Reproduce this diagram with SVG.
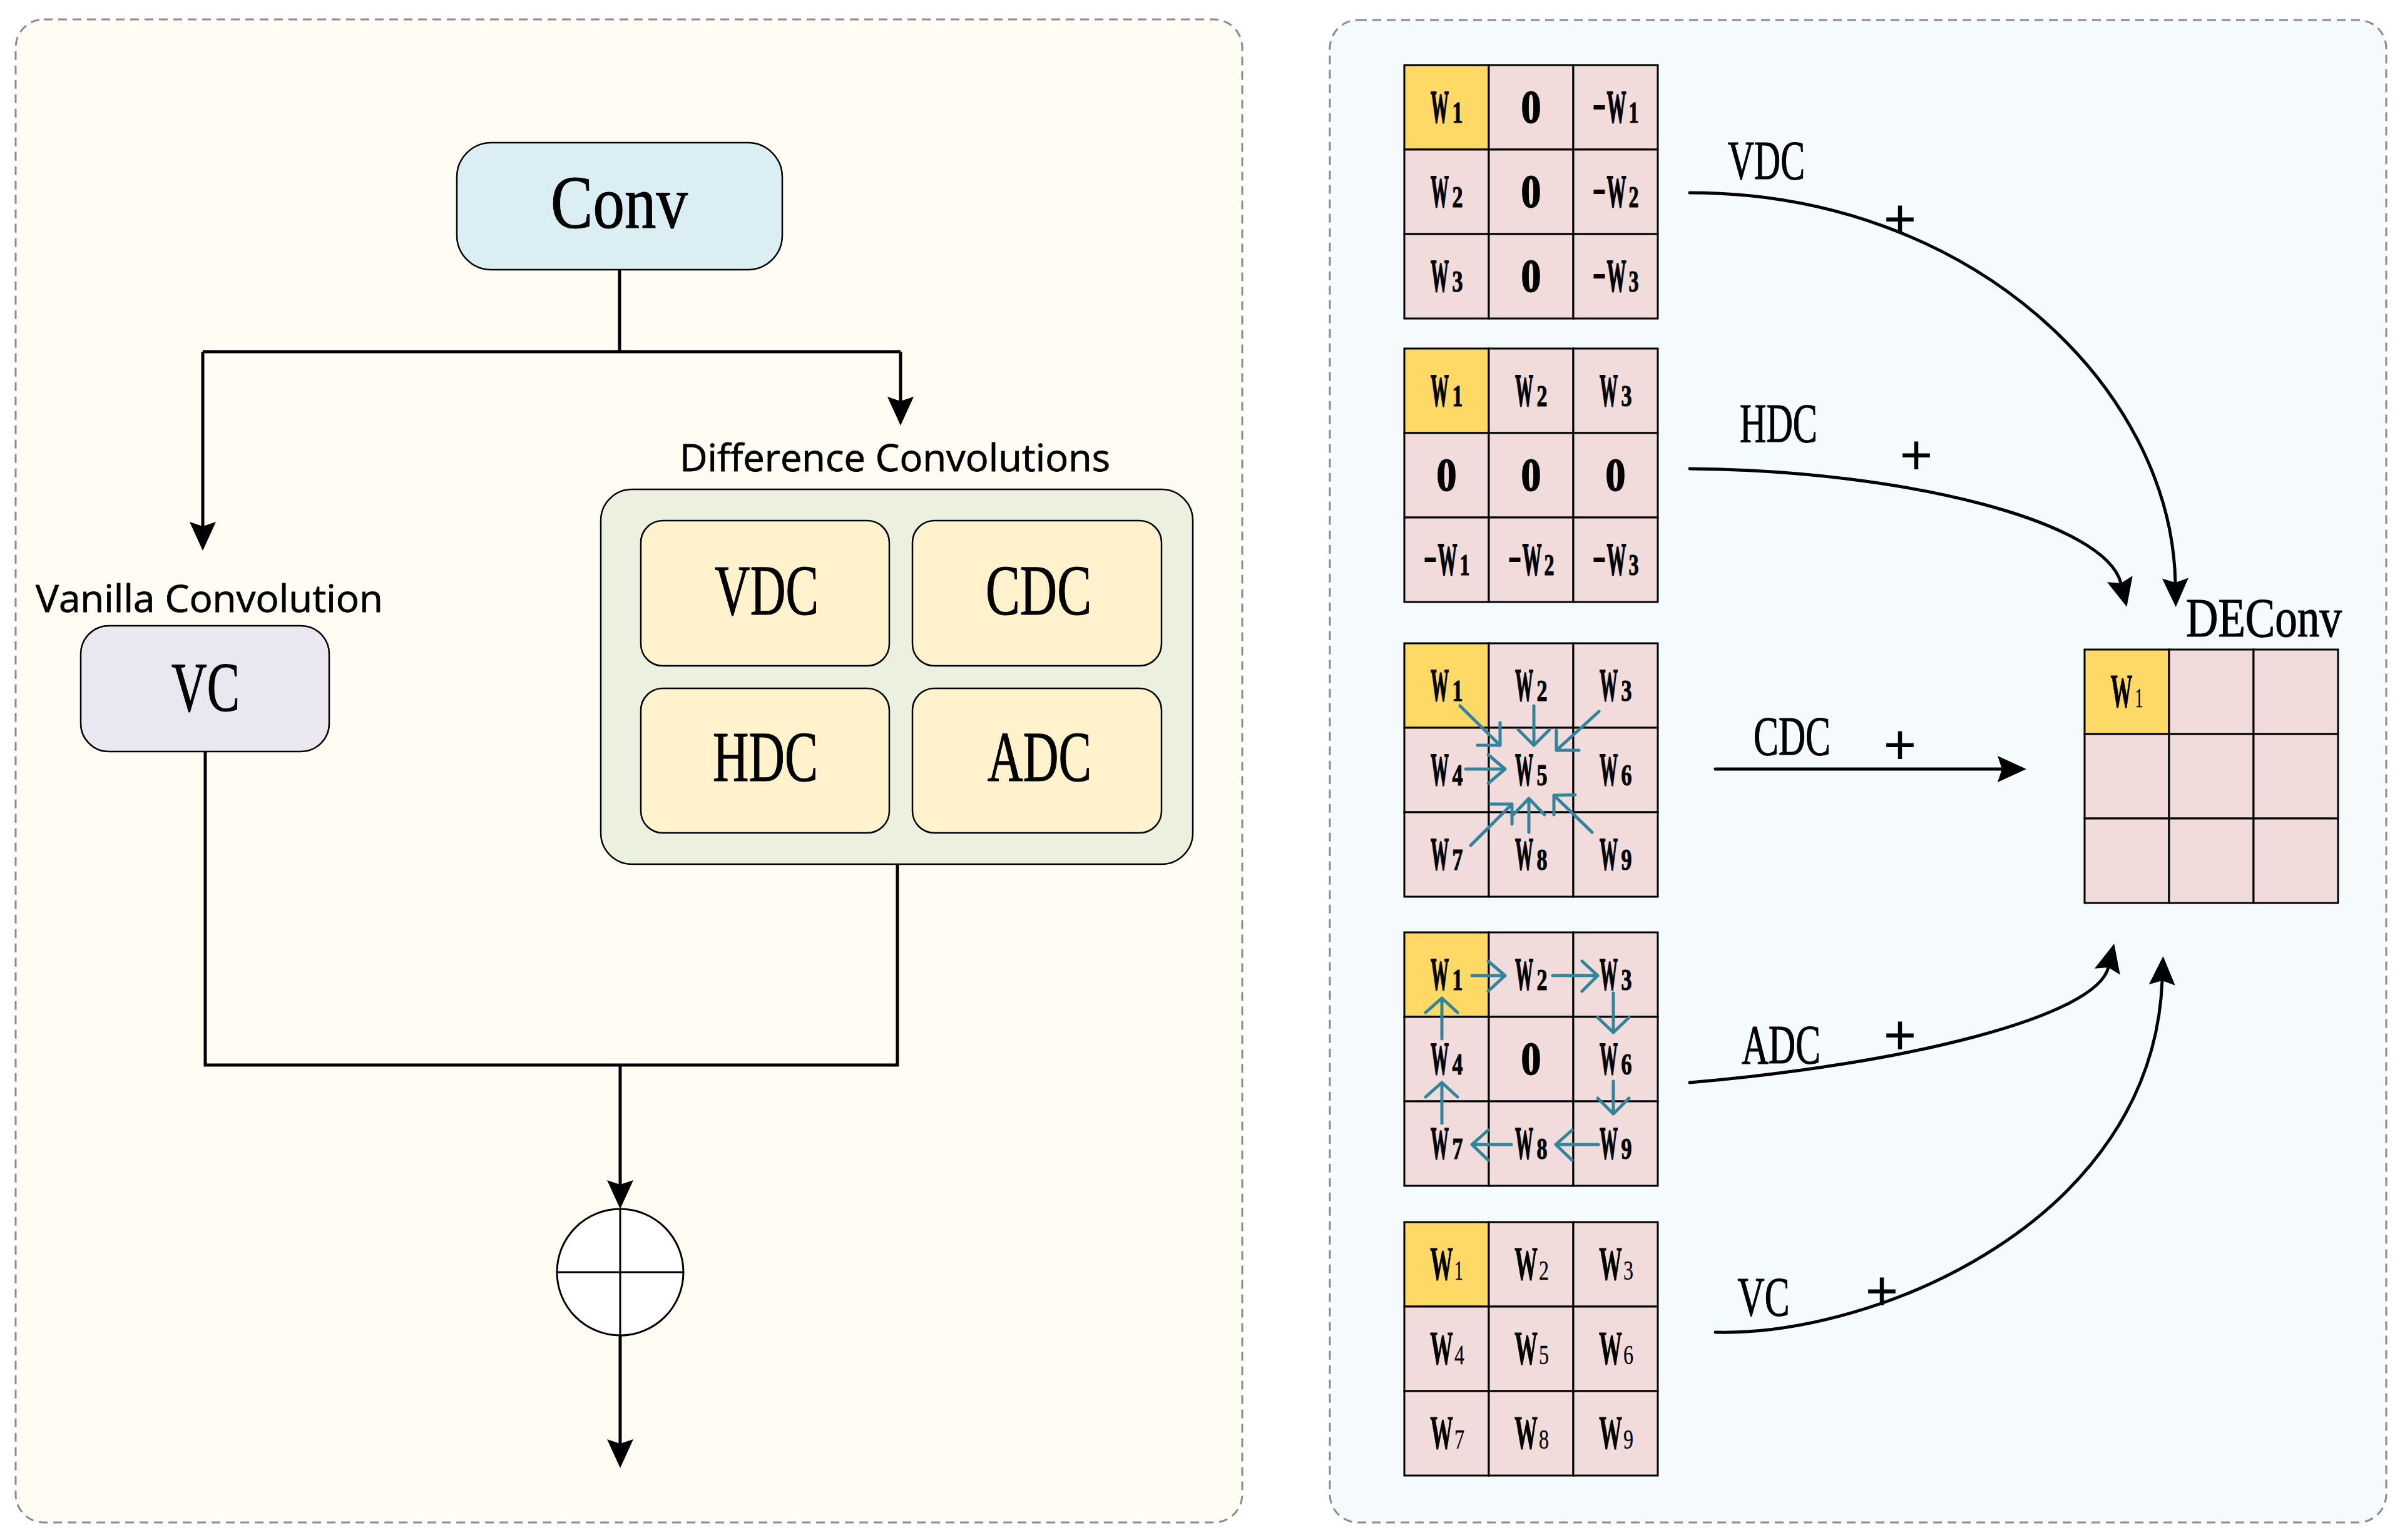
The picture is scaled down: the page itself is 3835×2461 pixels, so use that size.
<svg xmlns="http://www.w3.org/2000/svg" width="3835" height="2461" viewBox="0 0 3835 2461">
<defs>
<style>
.panel{stroke:#8c8c8c;stroke-width:3;stroke-dasharray:14 9}
.box{stroke:#000;stroke-width:2.5}
.ln{stroke:#000;stroke-width:5;fill:none}
.cv{stroke:#000;stroke-width:5;fill:none;stroke-linecap:round}
.tl{stroke:#31849B;stroke-width:5;fill:none;stroke-linecap:round;stroke-linejoin:round}
.lab{font-family:"Liberation Serif",serif;fill:#000;stroke:#000;stroke-width:1.2}
.sans{font-family:"Open Sans","Liberation Sans",sans-serif;font-size:60px;fill:#000;stroke:#000;stroke-width:0.8}
.pk{fill:#F2DCDB;stroke:#000;stroke-width:3}
.yl{fill:#FFD966;stroke:#000;stroke-width:3}
.w{font-family:"Liberation Serif",serif;font-weight:bold;font-size:74px;fill:#000;stroke:#000;stroke-width:1.8}
.d{font-family:"Liberation Serif",serif;font-weight:bold;font-size:48px;fill:#000;stroke:#000;stroke-width:1.2}
.w2{font-family:"Liberation Serif",serif;font-weight:bold;font-size:76px;fill:#000;stroke:#000;stroke-width:0.8}
.d2{font-family:"Liberation Serif",serif;font-size:45px;fill:#000;stroke:#000;stroke-width:0.3}
.plus{font-family:"Liberation Sans",sans-serif;font-size:90px;text-anchor:middle}
</style>
<marker id="ah" markerUnits="userSpaceOnUse" markerWidth="52" markerHeight="50" viewBox="0 -25 52 50" refX="7" refY="0" orient="auto">
<path d="M0,-21 L46,0 L0,21 L7,0 Z" fill="#000"/>
</marker>
</defs>

<g id="panels">
<rect class="panel" x="25" y="31" width="1960" height="2402" rx="45" fill="#FFFCF4"/>
<rect class="panel" x="2125" y="32" width="1688" height="2401" rx="45" fill="#F5FAFD"/>
</g>

<g id="connectors">
<path class="ln" d="M990,431 V562"/>
<path class="ln" d="M324,562 H1439"/>
<path class="ln" d="M324,562 V841" marker-end="url(#ah)"/>
<path class="ln" d="M1439,562 V641" marker-end="url(#ah)"/>
<path class="ln" d="M328,1201 V1702 H1434 V1381"/>
<path class="ln" d="M991,1702 V1893" marker-end="url(#ah)"/>
<path class="ln" d="M991,2135 V2307" marker-end="url(#ah)"/>
<path class="cv" d="M2700,308 C3150,308 3470,620 3476,931" marker-end="url(#ah)"/>
<path class="cv" d="M2700,749 C3050,752 3365,835 3389,932" marker-end="url(#ah)"/>
<path class="cv" d="M2741,1229 H3199" marker-end="url(#ah)"/>
<path class="cv" d="M2700,1730 C3050,1700 3350,1624 3369,1546" marker-end="url(#ah)"/>
<path class="cv" d="M2741,2129 C3000,2135 3440,1950 3455,1567" marker-end="url(#ah)"/>
</g>

<g id="conv">
<rect class="box" x="730" y="228" width="520" height="203" rx="55" fill="#DBEEF4"/>
<text class="lab" x="880" y="364" font-size="120" textLength="219" lengthAdjust="spacingAndGlyphs">Conv</text>
</g>

<g id="vc">
<text class="sans" x="57" y="978" textLength="555" lengthAdjust="spacingAndGlyphs">Vanilla Convolution</text>
<rect class="box" x="129" y="1000" width="397" height="201" rx="45" fill="#EAE7F0"/>
<text class="lab" x="274" y="1136" font-size="113" textLength="109" lengthAdjust="spacingAndGlyphs">VC</text>
</g>

<g id="difference-convolutions">
<text class="sans" x="1086" y="753" textLength="688" lengthAdjust="spacingAndGlyphs">Difference Convolutions</text>
<rect class="box" x="960" y="782" width="946" height="599" rx="50" fill="#EBF1DE"/>
</g>
<g id="vdc">
<rect class="box" x="1024" y="832" width="397" height="232" rx="35" fill="#FFF2CC"/>
<text class="lab" x="1142" y="982" font-size="115" textLength="166" lengthAdjust="spacingAndGlyphs">VDC</text>
</g>
<g id="cdc">
<rect class="box" x="1458" y="832" width="398" height="232" rx="35" fill="#FFF2CC"/>
<text class="lab" x="1575" y="982" font-size="115" textLength="169" lengthAdjust="spacingAndGlyphs">CDC</text>
</g>
<g id="hdc">
<rect class="box" x="1024" y="1100" width="397" height="231" rx="35" fill="#FFF2CC"/>
<text class="lab" x="1139" y="1248" font-size="115" textLength="168" lengthAdjust="spacingAndGlyphs">HDC</text>
</g>
<g id="adc">
<rect class="box" x="1458" y="1100" width="398" height="231" rx="35" fill="#FFF2CC"/>
<text class="lab" x="1578" y="1248" font-size="115" textLength="166" lengthAdjust="spacingAndGlyphs">ADC</text>
</g>

<g id="sum">
<circle cx="991" cy="2033" r="101" fill="#fff" stroke="#000" stroke-width="3"/>
<path d="M890,2033 H1092 M991,1932 V2134" stroke="#000" stroke-width="3"/>
</g>

<g id="grid-vdc">
<rect class="yl" x="2244" y="104" width="135" height="135"/>
<rect class="pk" x="2379" y="104" width="135" height="135"/>
<rect class="pk" x="2514" y="104" width="135" height="135"/>
<rect class="pk" x="2244" y="239" width="135" height="135"/>
<rect class="pk" x="2379" y="239" width="135" height="135"/>
<rect class="pk" x="2514" y="239" width="135" height="135"/>
<rect class="pk" x="2244" y="374" width="135" height="135"/>
<rect class="pk" x="2379" y="374" width="135" height="135"/>
<rect class="pk" x="2514" y="374" width="135" height="135"/>
<text class="w" transform="matrix(.392,0,0,1,2286,195.5)">W</text><text class="d" transform="matrix(.708,0,0,1,2320.5,195.5)">1</text>
<text class="w" transform="matrix(.865,0,0,1,2430.5,195.5)">0</text>
<text class="w" transform="matrix(.498,0,0,1,2545,195.5)">−</text><text class="w" transform="matrix(.419,0,0,1,2567.5,195.5)">W</text><text class="d" transform="matrix(.667,0,0,1,2602.5,195.5)">1</text>
<text class="w" transform="matrix(.392,0,0,1,2286,330.5)">W</text><text class="d" transform="matrix(.708,0,0,1,2320.5,330.5)">2</text>
<text class="w" transform="matrix(.865,0,0,1,2430.5,330.5)">0</text>
<text class="w" transform="matrix(.498,0,0,1,2545,330.5)">−</text><text class="w" transform="matrix(.419,0,0,1,2567.5,330.5)">W</text><text class="d" transform="matrix(.667,0,0,1,2602.5,330.5)">2</text>
<text class="w" transform="matrix(.392,0,0,1,2286,465.5)">W</text><text class="d" transform="matrix(.708,0,0,1,2320.5,465.5)">3</text>
<text class="w" transform="matrix(.865,0,0,1,2430.5,465.5)">0</text>
<text class="w" transform="matrix(.498,0,0,1,2545,465.5)">−</text><text class="w" transform="matrix(.419,0,0,1,2567.5,465.5)">W</text><text class="d" transform="matrix(.667,0,0,1,2602.5,465.5)">3</text>
</g>

<g id="grid-hdc">
<rect class="yl" x="2244" y="557" width="135" height="135"/>
<rect class="pk" x="2379" y="557" width="135" height="135"/>
<rect class="pk" x="2514" y="557" width="135" height="135"/>
<rect class="pk" x="2244" y="692" width="135" height="135"/>
<rect class="pk" x="2379" y="692" width="135" height="135"/>
<rect class="pk" x="2514" y="692" width="135" height="135"/>
<rect class="pk" x="2244" y="827" width="135" height="135"/>
<rect class="pk" x="2379" y="827" width="135" height="135"/>
<rect class="pk" x="2514" y="827" width="135" height="135"/>
<text class="w" transform="matrix(.392,0,0,1,2286,648.5)">W</text><text class="d" transform="matrix(.708,0,0,1,2320.5,648.5)">1</text>
<text class="w" transform="matrix(.392,0,0,1,2421,648.5)">W</text><text class="d" transform="matrix(.708,0,0,1,2455.5,648.5)">2</text>
<text class="w" transform="matrix(.392,0,0,1,2556,648.5)">W</text><text class="d" transform="matrix(.708,0,0,1,2590.5,648.5)">3</text>
<text class="w" transform="matrix(.865,0,0,1,2295.5,783.5)">0</text>
<text class="w" transform="matrix(.865,0,0,1,2430.5,783.5)">0</text>
<text class="w" transform="matrix(.865,0,0,1,2565.5,783.5)">0</text>
<text class="w" transform="matrix(.498,0,0,1,2275,918.5)">−</text><text class="w" transform="matrix(.419,0,0,1,2297.5,918.5)">W</text><text class="d" transform="matrix(.667,0,0,1,2332.5,918.5)">1</text>
<text class="w" transform="matrix(.498,0,0,1,2410,918.5)">−</text><text class="w" transform="matrix(.419,0,0,1,2432.5,918.5)">W</text><text class="d" transform="matrix(.667,0,0,1,2467.5,918.5)">2</text>
<text class="w" transform="matrix(.498,0,0,1,2545,918.5)">−</text><text class="w" transform="matrix(.419,0,0,1,2567.5,918.5)">W</text><text class="d" transform="matrix(.667,0,0,1,2602.5,918.5)">3</text>
</g>

<g id="grid-cdc">
<rect class="yl" x="2244" y="1028" width="135" height="135"/>
<rect class="pk" x="2379" y="1028" width="135" height="135"/>
<rect class="pk" x="2514" y="1028" width="135" height="135"/>
<rect class="pk" x="2244" y="1163" width="135" height="135"/>
<rect class="pk" x="2379" y="1163" width="135" height="135"/>
<rect class="pk" x="2514" y="1163" width="135" height="135"/>
<rect class="pk" x="2244" y="1298" width="135" height="135"/>
<rect class="pk" x="2379" y="1298" width="135" height="135"/>
<rect class="pk" x="2514" y="1298" width="135" height="135"/>
<text class="w" transform="matrix(.392,0,0,1,2286,1119.5)">W</text><text class="d" transform="matrix(.708,0,0,1,2320.5,1119.5)">1</text>
<text class="w" transform="matrix(.392,0,0,1,2421,1119.5)">W</text><text class="d" transform="matrix(.708,0,0,1,2455.5,1119.5)">2</text>
<text class="w" transform="matrix(.392,0,0,1,2556,1119.5)">W</text><text class="d" transform="matrix(.708,0,0,1,2590.5,1119.5)">3</text>
<text class="w" transform="matrix(.392,0,0,1,2286,1254.5)">W</text><text class="d" transform="matrix(.708,0,0,1,2320.5,1254.5)">4</text>
<text class="w" transform="matrix(.392,0,0,1,2421,1254.5)">W</text><text class="d" transform="matrix(.708,0,0,1,2455.5,1254.5)">5</text>
<text class="w" transform="matrix(.392,0,0,1,2556,1254.5)">W</text><text class="d" transform="matrix(.708,0,0,1,2590.5,1254.5)">6</text>
<text class="w" transform="matrix(.392,0,0,1,2286,1389.5)">W</text><text class="d" transform="matrix(.708,0,0,1,2320.5,1389.5)">7</text>
<text class="w" transform="matrix(.392,0,0,1,2421,1389.5)">W</text><text class="d" transform="matrix(.708,0,0,1,2455.5,1389.5)">8</text>
<text class="w" transform="matrix(.392,0,0,1,2556,1389.5)">W</text><text class="d" transform="matrix(.708,0,0,1,2590.5,1389.5)">9</text>
<path class="tl" d="M2333,1128 L2397,1191 M2397,1155 L2397,1191 L2361,1191"/>
<path class="tl" d="M2451,1128 L2451,1191 M2426,1166 L2451,1191 L2476,1166"/>
<path class="tl" d="M2555,1137 L2487,1199 M2487,1167 L2487,1199 L2523,1199"/>
<path class="tl" d="M2342,1229 L2405,1229 M2378,1206 L2405,1229 L2378,1252"/>
<path class="tl" d="M2350,1351 L2416,1285 M2382,1285 L2416,1285 L2416,1317"/>
<path class="tl" d="M2443,1330 L2443,1276 M2418,1302 L2443,1276 L2468,1302"/>
<path class="tl" d="M2544,1330 L2483,1271 M2517,1270 L2483,1271 L2483,1302"/>
</g>

<g id="grid-adc">
<rect class="yl" x="2244" y="1490" width="135" height="135"/>
<rect class="pk" x="2379" y="1490" width="135" height="135"/>
<rect class="pk" x="2514" y="1490" width="135" height="135"/>
<rect class="pk" x="2244" y="1625" width="135" height="135"/>
<rect class="pk" x="2379" y="1625" width="135" height="135"/>
<rect class="pk" x="2514" y="1625" width="135" height="135"/>
<rect class="pk" x="2244" y="1760" width="135" height="135"/>
<rect class="pk" x="2379" y="1760" width="135" height="135"/>
<rect class="pk" x="2514" y="1760" width="135" height="135"/>
<text class="w" transform="matrix(.392,0,0,1,2286,1581.5)">W</text><text class="d" transform="matrix(.708,0,0,1,2320.5,1581.5)">1</text>
<text class="w" transform="matrix(.392,0,0,1,2421,1581.5)">W</text><text class="d" transform="matrix(.708,0,0,1,2455.5,1581.5)">2</text>
<text class="w" transform="matrix(.392,0,0,1,2556,1581.5)">W</text><text class="d" transform="matrix(.708,0,0,1,2590.5,1581.5)">3</text>
<text class="w" transform="matrix(.392,0,0,1,2286,1716.5)">W</text><text class="d" transform="matrix(.708,0,0,1,2320.5,1716.5)">4</text>
<text class="w" transform="matrix(.865,0,0,1,2430.5,1716.5)">0</text>
<text class="w" transform="matrix(.392,0,0,1,2556,1716.5)">W</text><text class="d" transform="matrix(.708,0,0,1,2590.5,1716.5)">6</text>
<text class="w" transform="matrix(.392,0,0,1,2286,1851.5)">W</text><text class="d" transform="matrix(.708,0,0,1,2320.5,1851.5)">7</text>
<text class="w" transform="matrix(.392,0,0,1,2421,1851.5)">W</text><text class="d" transform="matrix(.708,0,0,1,2455.5,1851.5)">8</text>
<text class="w" transform="matrix(.392,0,0,1,2556,1851.5)">W</text><text class="d" transform="matrix(.708,0,0,1,2590.5,1851.5)">9</text>
<path class="tl" d="M2352,1559 L2405,1559 M2378,1536 L2405,1559 L2378,1584"/>
<path class="tl" d="M2481,1559 L2553,1559 M2528,1536 L2553,1559 L2528,1584"/>
<path class="tl" d="M2578,1587 L2578,1650 M2553,1626 L2578,1650 L2603,1626"/>
<path class="tl" d="M2578,1728 L2578,1780 M2553,1755 L2578,1780 L2603,1755"/>
<path class="tl" d="M2554,1829 L2486,1829 M2512,1806 L2486,1829 L2512,1854"/>
<path class="tl" d="M2415,1829 L2352,1829 M2378,1806 L2352,1829 L2378,1854"/>
<path class="tl" d="M2304,1795 L2304,1730 M2278,1753 L2304,1730 L2329,1753"/>
<path class="tl" d="M2304,1660 L2304,1595 M2278,1618 L2304,1595 L2329,1618"/>
</g>

<g id="grid-vc">
<rect class="yl" x="2244" y="1953" width="135" height="135"/>
<rect class="pk" x="2379" y="1953" width="135" height="135"/>
<rect class="pk" x="2514" y="1953" width="135" height="135"/>
<rect class="pk" x="2244" y="2088" width="135" height="135"/>
<rect class="pk" x="2379" y="2088" width="135" height="135"/>
<rect class="pk" x="2514" y="2088" width="135" height="135"/>
<rect class="pk" x="2244" y="2223" width="135" height="135"/>
<rect class="pk" x="2379" y="2223" width="135" height="135"/>
<rect class="pk" x="2514" y="2223" width="135" height="135"/>
<text class="w2" transform="matrix(.487,0,0,1,2285,2044.5)">W</text><text class="d2" transform="matrix(.622,0,0,1,2324,2044.5)">1</text>
<text class="w2" transform="matrix(.487,0,0,1,2420,2044.5)">W</text><text class="d2" transform="matrix(.711,0,0,1,2459,2044.5)">2</text>
<text class="w2" transform="matrix(.487,0,0,1,2555,2044.5)">W</text><text class="d2" transform="matrix(.711,0,0,1,2594,2044.5)">3</text>
<text class="w2" transform="matrix(.487,0,0,1,2285,2179.5)">W</text><text class="d2" transform="matrix(.711,0,0,1,2324,2179.5)">4</text>
<text class="w2" transform="matrix(.487,0,0,1,2420,2179.5)">W</text><text class="d2" transform="matrix(.711,0,0,1,2459,2179.5)">5</text>
<text class="w2" transform="matrix(.487,0,0,1,2555,2179.5)">W</text><text class="d2" transform="matrix(.711,0,0,1,2594,2179.5)">6</text>
<text class="w2" transform="matrix(.487,0,0,1,2285,2314.5)">W</text><text class="d2" transform="matrix(.711,0,0,1,2324,2314.5)">7</text>
<text class="w2" transform="matrix(.487,0,0,1,2420,2314.5)">W</text><text class="d2" transform="matrix(.711,0,0,1,2459,2314.5)">8</text>
<text class="w2" transform="matrix(.487,0,0,1,2555,2314.5)">W</text><text class="d2" transform="matrix(.711,0,0,1,2594,2314.5)">9</text>
</g>

<g id="deconv">
<text class="lab" x="3493" y="1017" font-size="89" textLength="249" lengthAdjust="spacingAndGlyphs">DEConv</text>
<rect class="yl" x="3331" y="1038" width="135" height="135"/>
<rect class="pk" x="3466" y="1038" width="135" height="135"/>
<rect class="pk" x="3601" y="1038" width="135" height="135"/>
<rect class="pk" x="3331" y="1173" width="135" height="135"/>
<rect class="pk" x="3466" y="1173" width="135" height="135"/>
<rect class="pk" x="3601" y="1173" width="135" height="135"/>
<rect class="pk" x="3331" y="1308" width="135" height="135"/>
<rect class="pk" x="3466" y="1308" width="135" height="135"/>
<rect class="pk" x="3601" y="1308" width="135" height="135"/>
<text class="w2" transform="matrix(.46,0,0,1,3372.5,1129.5)">W</text><text class="d2" transform="matrix(.578,0,0,1,3411.5,1129.5)">1</text>
</g>

<g id="labels">
<text class="lab" x="2761" y="285.5" font-size="88" textLength="123" lengthAdjust="spacingAndGlyphs">VDC</text>
<text class="lab" x="2780" y="705.5" font-size="88" textLength="124" lengthAdjust="spacingAndGlyphs">HDC</text>
<text class="lab" x="2802" y="1206" font-size="88" textLength="123" lengthAdjust="spacingAndGlyphs">CDC</text>
<text class="lab" x="2783" y="1699" font-size="88" textLength="126" lengthAdjust="spacingAndGlyphs">ADC</text>
<text class="lab" x="2776.5" y="2102" font-size="88" textLength="83" lengthAdjust="spacingAndGlyphs">VC</text>
<text class="plus" x="3036" y="381">+</text>
<text class="plus" x="3062" y="758">+</text>
<text class="plus" x="3036" y="1221">+</text>
<text class="plus" x="3036" y="1685">+</text>
<text class="plus" x="3007" y="2094">+</text>
</g>
</svg>
